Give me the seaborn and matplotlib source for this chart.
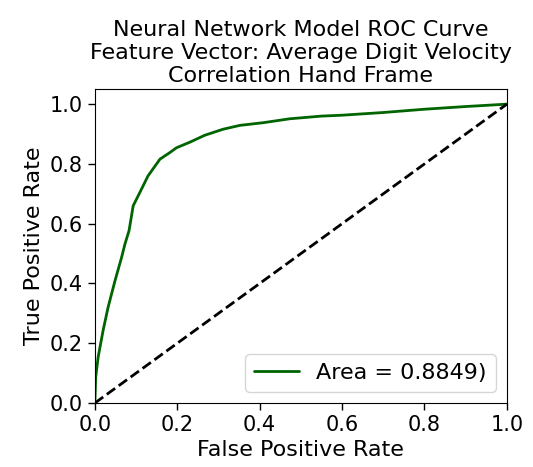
import matplotlib
matplotlib.use("Agg")
import matplotlib.pyplot as plt
import seaborn as sns
import pandas as pd

fpr = [0.0, 0.002, 0.008, 0.02, 0.032, 0.049, 0.065, 0.073, 0.083, 0.093, 0.109, 0.129,
       0.158, 0.182, 0.198, 0.231, 0.267, 0.311, 0.352, 0.409, 0.473, 0.55, 0.6, 0.7,
       0.8, 0.9, 1.0]
tpr = [0.0, 0.087, 0.154, 0.243, 0.32, 0.41, 0.488, 0.532, 0.577, 0.66, 0.704, 0.76,
       0.816, 0.838, 0.854, 0.873, 0.896, 0.916, 0.929, 0.938, 0.951, 0.960, 0.963, 0.972,
       0.983, 0.992, 1.0]
diag = [0.0, 1.0]
auc_label = "Area = 0.8849)"
title = "Neural Network Model ROC Curve\nFeature Vector: Average Digit Velocity\nCorrelation Hand Frame"

sns.set_style("white")
plt.rcParams['font.family'] = ['DejaVu Sans']
plt.rcParams.update({"text.color": "black", "axes.labelcolor": "black",
                     "xtick.color": "black", "ytick.color": "black"})

fig, ax = plt.subplots(figsize=(5.33, 4.67), dpi=100)
df = pd.DataFrame({"fpr": fpr, "tpr": tpr})
sns.lineplot(data=df, x="fpr", y="tpr", color="darkgreen", lw=2, label=auc_label, ax=ax,
             estimator=None, sort=False)
sns.lineplot(x=diag, y=diag, color="black", lw=2, linestyle="--", ax=ax)
ax.set_xlim(0, 1)
ax.set_ylim(0, 1.05)
ax.set_xlabel("False Positive Rate", fontsize=16)
ax.set_ylabel("True Positive Rate", fontsize=16)
ax.set_title(title, fontsize=16, pad=5)
ax.tick_params(labelsize=15, bottom=True, left=True, length=5, width=1)
for s in ax.spines.values():
    s.set_color("black")
ax.legend(loc="lower right", fontsize=16)
fig.subplots_adjust(left=0.178, right=0.951, bottom=0.137, top=0.809)
fig.savefig("out.png", dpi=100)
